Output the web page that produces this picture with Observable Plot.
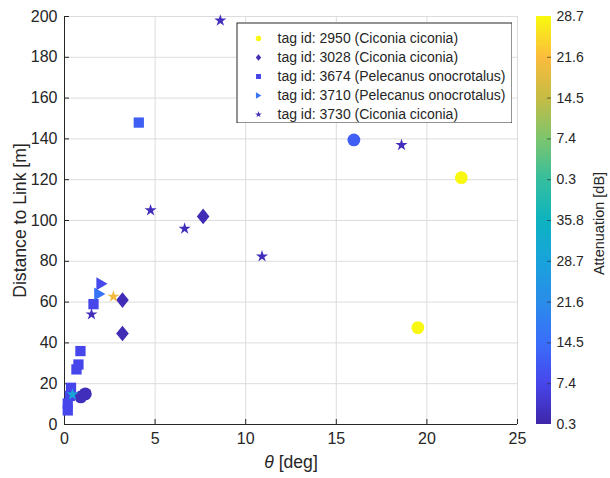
<!DOCTYPE html>
<html>
<head>
<meta charset="utf-8">
<script src="https://cdn.jsdelivr.net/npm/d3@7"></script>
<script src="https://cdn.jsdelivr.net/npm/@observablehq/plot@0.6"></script>
<style>
  body { margin: 0; background: #fff; }
  #wrap { position: relative; width: 610px; height: 478px; background: #fff; }
  #wrap > svg, #wrap > figure { position: absolute; margin: 0; }
</style>
</head>
<body>
<div id="wrap"></div>
<script>
// ---------- data ----------
const seriesNames = [
  "tag id: 2950 (Ciconia ciconia)",
  "tag id: 3028 (Ciconia ciconia)",
  "tag id: 3674 (Pelecanus onocrotalus)",
  "tag id: 3710 (Pelecanus onocrotalus)",
  "tag id: 3730 (Ciconia ciconia)"
];
// tag 2950 (circles)
const theta2950 = [21.9, 19.5, 15.97, 1.15, 0.9];
const dist2950  = [121, 47.5, 139.5, 15.0, 13.5];
const att2950   = [71.0, 71.0, 11.7, 2.4, 2.4];
// tag 3028 (diamonds)
const theta3028 = [7.65, 3.2, 3.2];
const dist3028  = [102, 61, 44.6];
const att3028   = [1.7, 1.7, 1.7];
// tag 3674 (squares)
const theta3674 = [1.6, 4.1, 0.88, 0.77, 0.66, 0.36, 0.3, 0.18, 0.18];
const dist3674  = [59, 148, 36, 29.4, 27, 18, 14, 10.3, 6.9];
const att3674   = [7.4, 11.7, 7.4, 7.4, 7.4, 7.4, 7.4, 7.4, 7.4];
// tag 3710 (right triangles)
const theta3710 = [1.93, 2.05];
const dist3710  = [64, 69];
const att3710   = [15.9, 8.1];
// tag 3730 (stars)
const theta3730 = [8.6, 18.6, 4.75, 6.63, 10.9, 1.49, 2.7, 0.44];
const dist3730  = [198, 137, 105, 96, 82.4, 54, 62.7, 14.7];
const att3730   = [2.4, 2.4, 2.4, 2.4, 2.4, 2.4, 62.8, 30.1];

const xTicks = [0, 5, 10, 15, 20, 25];
const yTicks = [0, 20, 40, 60, 80, 100, 120, 140, 160, 180, 200];
const colorTickLabels = ["0.3", "7.4", "14.5", "21.6", "28.7", "35.8", "0.3", "7.4", "14.5", "21.6", "28.7"];
const colorDomain = [0.3, 71.3];
const xLabel = "θ [deg]";
const yLabel = "Distance to Link [m]";
const cLabel = "Attenuation [dB]";

// ---------- styling ----------
const FONT = "'Liberation Sans', Arial, Helvetica, sans-serif";
const INK = "#262626";
const parulaStops = ["#3e26a8","#4746eb","#3a6efa","#2a8ce9","#19a3dc","#0db3c0","#36be9d","#7dc56d","#c6bc44","#fbbc3d","#f9fb0e"];
const parula = d3.piecewise(d3.interpolateRgb, parulaStops);
const colorScale = {type: "linear", domain: colorDomain, interpolate: parula};

const diamondSym = {draw(ctx, size) {
  const r = Math.sqrt(size / Math.PI), h = 1.12 * r, w = 0.9 * r;
  ctx.moveTo(0, -h); ctx.lineTo(w, 0); ctx.lineTo(0, h); ctx.lineTo(-w, 0); ctx.closePath();
}};
const triRightSym = {draw(ctx, size) {
  const r = Math.sqrt(size / Math.PI);
  ctx.moveTo(-0.85 * r, -1.05 * r); ctx.lineTo(0.95 * r, 0); ctx.lineTo(-0.85 * r, 1.05 * r); ctx.closePath();
}};

const rows = (t, d, a) => t.map((v, i) => ({theta: v, dist: d[i], att: a[i]}));
const series = [
  {name: seriesNames[0], data: rows(theta2950, dist2950, att2950), symbol: "circle", r: 6.4, lr: 2.7},
  {name: seriesNames[1], data: rows(theta3028, dist3028, att3028), symbol: diamondSym, r: 7.0, lr: 3.0},
  {name: seriesNames[2], data: rows(theta3674, dist3674, att3674), symbol: "square", r: 5.8, lr: 2.8},
  {name: seriesNames[3], data: rows(theta3710, dist3710, att3710), symbol: triRightSym, r: 6.2, lr: 3.0},
  {name: seriesNames[4], data: rows(theta3730, dist3730, att3730), symbol: "star", r: 3.8, lr: 2.1}
];

const wrap = document.getElementById("wrap");

// ---------- main chart ----------
const main = Plot.plot({
  width: 610, height: 478,
  marginLeft: 64, marginRight: 93, marginTop: 16, marginBottom: 54,
  x: {domain: [0, 25]},
  y: {domain: [0, 200]},
  color: colorScale,
  style: {fontFamily: FONT, fontSize: "16px", color: INK, background: "transparent"},
  marks: [
    Plot.gridX(xTicks.slice(1), {stroke: "#dcdcdc", strokeOpacity: 1}),
    Plot.gridY(yTicks.slice(1), {stroke: "#dcdcdc", strokeOpacity: 1}),
    Plot.axisX(xTicks, {tickSize: 0, tickPadding: 8, label: null, fill: INK, fontSize: 16}),
    Plot.axisY(yTicks, {tickSize: 0, tickPadding: 7, label: null, fill: INK, fontSize: 16}),
    Plot.tickX(xTicks, {x: d => d, insetTop: 403, stroke: INK}),
    Plot.tickY(yTicks, {y: d => d, insetRight: 448, stroke: INK}),
    Plot.ruleY([0], {stroke: INK}),
    Plot.ruleX([0], {stroke: INK}),
    ...series.map(s => Plot.dot(s.data, {x: "theta", y: "dist", fill: "att", symbol: s.symbol, r: s.r, stroke: null})),
    Plot.text([xLabel], {frameAnchor: "bottom", dy: 43, fontSize: 17.6, fill: INK, textAnchor: "middle"}),
    Plot.text([yLabel], {frameAnchor: "left", rotate: -90, dx: -44, fontSize: 17.6, fill: INK, textAnchor: "middle"})
  ]
});
wrap.appendChild(main);
main.style.left = "0px"; main.style.top = "0px";
// italic theta
d3.select(main).selectAll("text").filter(function() { return this.textContent === xLabel; })
  .each(function() {
    const t = d3.select(this);
    t.text(null);
    t.append("tspan").attr("font-style", "italic").text("θ");
    t.append("tspan").text(" [deg]");
  });

// ---------- colorbar ----------
const nb = 200;
const bands = d3.range(nb).map(i => {
  const a = colorDomain[0] + (colorDomain[1] - colorDomain[0]) * i / nb;
  const b = colorDomain[0] + (colorDomain[1] - colorDomain[0]) * (i + 1.02) / nb;
  return {y1: a, y2: Math.min(b, colorDomain[1]), v: (a + b) / 2};
});
const step = (colorDomain[1] - colorDomain[0]) / (colorTickLabels.length - 1);
const colorTicks = colorTickLabels.map((_, i) => colorDomain[0] + i * step);
const cbar = Plot.plot({
  width: 74, height: 424,
  marginLeft: 0, marginRight: 59, marginTop: 8, marginBottom: 8,
  y: {domain: colorDomain},
  color: colorScale,
  style: {fontFamily: FONT, fontSize: "14px", color: INK, background: "transparent"},
  marks: [
    Plot.rect(bands, {y1: "y1", y2: "y2", fill: "v", shapeRendering: "crispEdges"}),
    Plot.tickY(colorTicks.slice(1, -1), {y: d => d, insetLeft: 11, stroke: INK, strokeOpacity: 0.6}),
    Plot.axisY(colorTicks, {anchor: "right", tickSize: 0, tickPadding: 5, label: null, fill: INK, fontSize: 14,
      tickFormat: d => colorTickLabels[Math.round((d - colorDomain[0]) / step)]}),
    Plot.text([cLabel], {frameAnchor: "right", rotate: -90, dx: 48, dy: 3, fontSize: 14.5, fill: INK, textAnchor: "middle"})
  ]
});
wrap.appendChild(cbar);
cbar.style.left = "536px"; cbar.style.top = "8px";

// ---------- legend ----------
const legend = Plot.plot({
  width: 276, height: 101,
  margin: 0,
  x: {axis: null},
  y: {type: "point", domain: seriesNames, range: [15.5, 91.5], padding: 0, axis: null},
  color: colorScale,
  style: {fontFamily: FONT, fontSize: "14px", color: INK, background: "#fff"},
  marks: [
    Plot.frame({stroke: INK, strokeWidth: 1, inset: 0.5}),
    ...series.map(s => Plot.dot([s], {y: "name", frameAnchor: "left", dx: 22, fill: d => d.data[0].att, symbol: s.symbol, r: s.lr, stroke: null})),
    Plot.text(series, {y: "name", text: "name", frameAnchor: "left", dx: 41, textAnchor: "start", fill: INK, fontSize: 14})
  ]
});
wrap.appendChild(legend);
legend.style.left = "236px"; legend.style.top = "22px";
</script>
</body>
</html>
